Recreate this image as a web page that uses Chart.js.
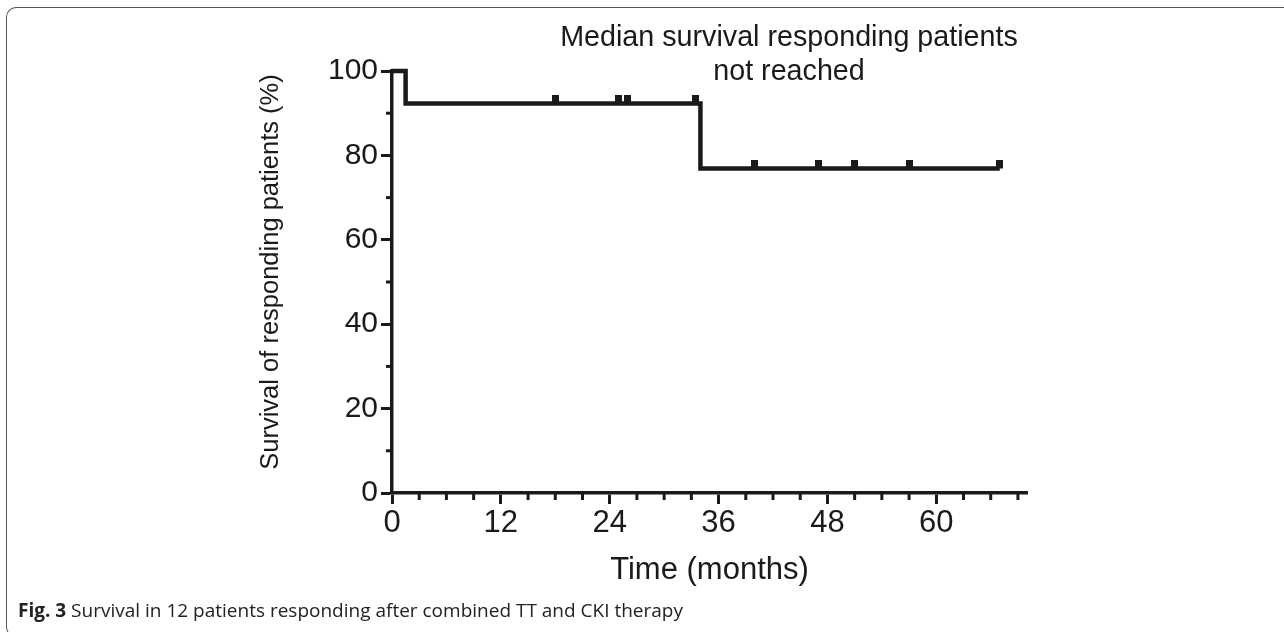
<!DOCTYPE html>
<html>
<head>
<meta charset="utf-8">
<script src="https://cdn.jsdelivr.net/npm/chart.js"></script>
<style>
  html, body { margin: 0; padding: 0; background: #fff; }
  body { width: 1284px; height: 632px; position: relative; overflow: hidden; }
  .frame {
    position: absolute; left: 6px; top: 7px; width: 1300px; height: 628px;
    border-top: 1.5px solid #555; border-left: 1.5px solid #555; border-bottom: 1.5px solid #555;
    border-radius: 10px 0 0 10px;
  }
  #chart-wrap { position: absolute; left: 0; top: 0; width: 1284px; height: 632px; }
  .caption {
    position: absolute; left: 18px; top: 597px;
    font-family: 'Open Sans', sans-serif; font-size: 19px;
    color: #222; white-space: nowrap;
  }
  .caption b { font-weight: 700; }
</style>
</head>
<body>
<div class="frame"></div>
<div id="chart-wrap"><canvas id="myChart" width="1284" height="632"></canvas></div>
<div class="caption"><b>Fig. 3</b> Survival in 12 patients responding after combined TT and CKI therapy</div>

<script>
// Kaplan-Meier steps (time in months, survival in %)
const stepTimes = [0, 1.5, 34, 67];
const stepSurvival = [100, 92.3, 76.9, 76.9];

// censored patients (small marks on the curve)
const censorTimes = [18, 25, 26, 33.5, 40, 47, 51, 57, 67];
const censorSurvival = [92.3, 92.3, 92.3, 92.3, 76.9, 76.9, 76.9, 76.9, 76.9];

// axis ticks
const xTicks = [0, 12, 24, 36, 48, 60];
const yTicks = [0, 20, 40, 60, 80, 100];
const xMinorStep = 3;
const yMinorStep = 10;

const ink = '#1a1a1a';
const mainFont = "'Liberation Sans', Arial, sans-serif";

// censor mark: little block sitting on top of the line
function makeCensorMark() {
  const c = document.createElement('canvas');
  c.width = 7;
  c.height = 16;
  const g = c.getContext('2d');
  g.fillStyle = ink;
  g.fillRect(0, 0, 7, 8);
  return c;
}

// short minor ticks, drawn from the scales
const minorTicks = {
  id: 'minorTicks',
  afterDraw(chart) {
    const ctx = chart.ctx;
    const x = chart.scales.x;
    const y = chart.scales.y;
    ctx.save();
    ctx.strokeStyle = ink;
    ctx.lineWidth = 3;
    for (let v = 0; v <= x.max; v += xMinorStep) {
      if (xTicks.includes(v)) continue;
      const px = x.getPixelForValue(v);
      ctx.beginPath();
      ctx.moveTo(px, y.bottom);
      ctx.lineTo(px, y.bottom + 7);
      ctx.stroke();
    }
    for (let v = 0; v <= y.max; v += yMinorStep) {
      if (yTicks.includes(v)) continue;
      const py = y.getPixelForValue(v);
      ctx.beginPath();
      ctx.moveTo(x.left, py);
      ctx.lineTo(x.left - 6, py);
      ctx.stroke();
    }
    ctx.restore();
  }
};

// texts: note at the top + y axis title
const chartTexts = {
  id: 'chartTexts',
  afterDraw(chart) {
    const ctx = chart.ctx;
    ctx.save();
    ctx.fillStyle = ink;
    ctx.font = '28.7px ' + mainFont;
    ctx.textAlign = 'center';
    ctx.textBaseline = 'alphabetic';
    ctx.fillText('Median survival responding patients', 789, 46);
    ctx.fillText('not reached', 789, 80);

    ctx.translate(271, 272);
    ctx.rotate(-Math.PI / 2);
    ctx.font = '25.5px ' + mainFont;
    ctx.textBaseline = 'middle';
    ctx.fillText('Survival of responding patients (%)', 0, 0);
    ctx.restore();
  }
};

function drawChart() {
  const ctx = document.getElementById('myChart');

  new Chart(ctx, {
    type: 'line',
    data: {
      datasets: [
        {
          label: 'Survival',
          data: stepTimes.map((t, i) => ({ x: t, y: stepSurvival[i] })),
          stepped: true,
          borderColor: ink,
          borderWidth: 4.5,
          pointRadius: 0,
          fill: false,
          clip: false,
        },
        {
          label: 'Censored',
          data: censorTimes.map((t, i) => ({ x: t, y: censorSurvival[i] })),
          showLine: false,
          pointStyle: makeCensorMark(),
          pointRadius: 4,
          clip: false,
        },
      ]
    },
    plugins: [minorTicks, chartTexts],
    options: {
      responsive: false,
      animation: false,
      events: [],
      layout: {
        padding: { top: 71, right: 257, bottom: 0, left: 0 }
      },
      scales: {
        x: {
          type: 'linear',
          min: 0,
          max: 70,
          afterBuildTicks: s => { s.ticks = xTicks.map(v => ({ value: v })); },
          afterFit: s => { s.height = 139; },
          border: { display: true, color: ink, width: 3.5 },
          grid: {
            drawOnChartArea: false,
            drawTicks: true,
            tickLength: 11,
            tickWidth: 3,
            tickColor: ink,
          },
          ticks: {
            color: ink,
            padding: 1,
            maxRotation: 0,
            font: { family: mainFont, size: 31 },
          },
          title: {
            display: true,
            text: 'Time (months)',
            color: ink,
            font: { family: mainFont, size: 31 },
            padding: { top: 0, bottom: 43 },
          },
        },
        y: {
          type: 'linear',
          min: 0,
          max: 100,
          afterBuildTicks: s => { s.ticks = yTicks.map(v => ({ value: v })); },
          afterFit: s => { s.width = 392; },
          border: { display: true, color: ink, width: 3.5 },
          grid: {
            drawOnChartArea: false,
            drawTicks: true,
            tickLength: 11,
            tickWidth: 3,
            tickColor: ink,
          },
          ticks: {
            color: ink,
            padding: 3,
            font: { family: mainFont, size: 30 },
          },
          title: { display: false },
        },
      },
      plugins: {
        legend: { display: false },
        tooltip: { enabled: false },
        title: { display: false },
      },
    }
  });
}

drawChart();
</script>
</body>
</html>
